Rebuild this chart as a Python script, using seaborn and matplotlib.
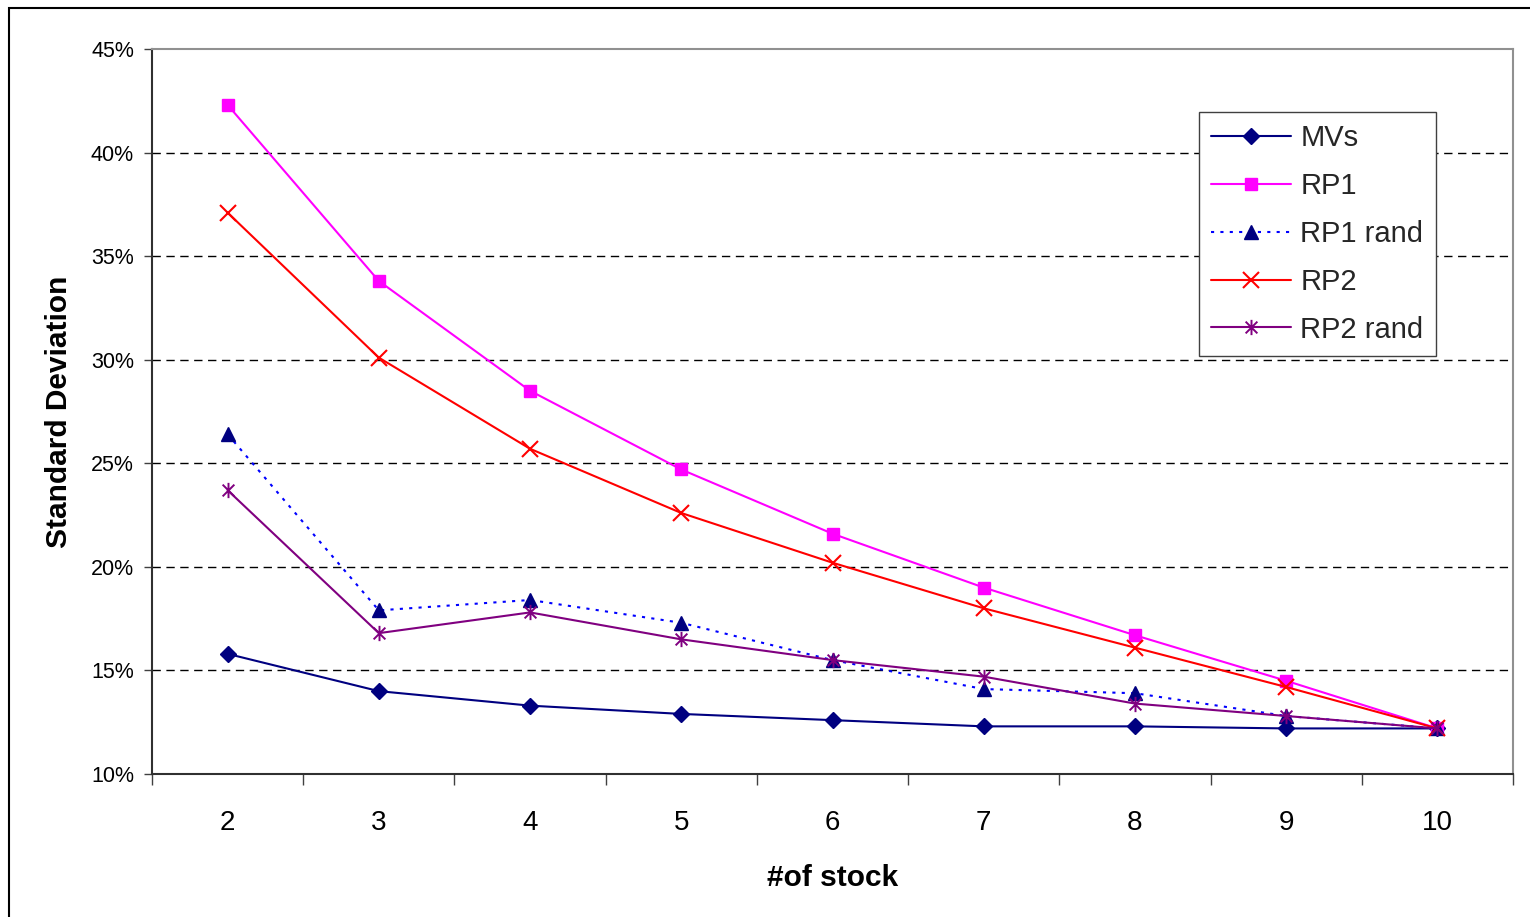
import numpy as np
import pandas as pd
import matplotlib
matplotlib.use("Agg")
import matplotlib.pyplot as plt
from matplotlib.path import Path
from matplotlib.patches import Rectangle
from matplotlib.ticker import FixedLocator, FuncFormatter
import seaborn as sns

# Number of stocks in the portfolio
stocks = [2, 3, 4, 5, 6, 7, 8, 9, 10]

# Portfolio standard deviation (%) for each method
mvs = [15.8, 14.0, 13.3, 12.9, 12.6, 12.3, 12.3, 12.2, 12.2]
rp1 = [42.3, 33.8, 28.5, 24.7, 21.6, 19.0, 16.7, 14.5, 12.2]
rp1_rand = [26.4, 17.9, 18.4, 17.3, 15.5, 14.1, 13.9, 12.8, 12.2]
rp2 = [37.1, 30.1, 25.7, 22.6, 20.2, 18.0, 16.1, 14.2, 12.2]
rp2_rand = [23.7, 16.8, 17.8, 16.5, 15.5, 14.7, 13.4, 12.8, 12.2]

series_names = ["MVs", "RP1", "RP1 rand", "RP2", "RP2 rand"]
series_values = [mvs, rp1, rp1_rand, rp2, rp2_rand]

y_ticks = [10, 15, 20, 25, 30, 35, 40, 45]

sns.set_theme(style="white")
plt.rcParams["font.family"] = ["Liberation Sans", "DejaVu Sans"]

# Asterisk marker: an x with a vertical stroke
star = Path(
    [(-1, -1), (1, 1), (-1, 1), (1, -1), (0, -1.3), (0, 1.3)],
    [Path.MOVETO, Path.LINETO, Path.MOVETO, Path.LINETO, Path.MOVETO, Path.LINETO],
)

styles = {
    "MVs": dict(color="#000080", marker="D", markersize=8, mfc="#000080", mec="#000080",
                linestyle="-"),
    "RP1": dict(color="#FF00FF", marker="s", markersize=8.5, mfc="#FF00FF", mec="#FF00FF",
                linestyle="-"),
    "RP1 rand": dict(color="#0000FF", marker="^", markersize=10, mfc="#000080", mec="#000080",
                     linestyle=(0, (1.5, 3.0))),
    "RP2": dict(color="#FF0000", marker="x", markersize=11, mfc="none", mec="#FF0000",
                mew=1.5, linestyle="-"),
    "RP2 rand": dict(color="#800080", marker=star, markersize=11, mfc="none", mec="#800080",
                     mew=1.4, linestyle="-"),
}

fig = plt.figure(figsize=(15.3, 9.17), dpi=100)
ax = fig.add_axes([152 / 1530, 1 - 774 / 917, (1513 - 152) / 1530, (774 - 49) / 917])

for name, vals in zip(series_names, series_values):
    df = pd.DataFrame({"stocks": stocks, "sd": vals})
    st = styles[name]
    sns.lineplot(
        data=df, x="stocks", y="sd", ax=ax, label=name,
        color=st["color"], linestyle=st["linestyle"], linewidth=1.5,
        marker=st["marker"], markersize=st["markersize"],
        markerfacecolor=st["mfc"], markeredgecolor=st["mec"],
        markeredgewidth=st.get("mew", 1.0), zorder=3,
    )

# Axes range and ticks (category axis with ticks between categories)
ax.set_xlim(1.5, 10.5)
ax.set_ylim(10, 45)
ax.xaxis.set_major_locator(FixedLocator(np.arange(1.5, 10.6, 1.0)))
ax.xaxis.set_minor_locator(FixedLocator(stocks))
ax.xaxis.set_major_formatter(FuncFormatter(lambda v, p: ""))
ax.xaxis.set_minor_formatter(FuncFormatter(lambda v, p: f"{int(round(v))}"))
ax.tick_params(axis="x", which="major", direction="out", length=8, width=1, color="#404040",
               bottom=True)
ax.tick_params(axis="x", which="minor", length=0, pad=26, labelsize=20, labelcolor="black",
               bottom=True)
ax.yaxis.set_major_locator(FixedLocator(y_ticks))
ax.yaxis.set_major_formatter(FuncFormatter(lambda v, p: f"{int(round(v))}%"))
ax.tick_params(axis="y", which="major", direction="out", length=6, width=1, color="#404040",
               left=True, pad=7, labelsize=15.5, labelcolor="black")

# Dashed horizontal gridlines
for yv in y_ticks[1:-1]:
    ax.axhline(yv, color="black", linewidth=1.0, linestyle=(0, (6, 4)), zorder=1)

for side in ["left", "bottom"]:
    ax.spines[side].set_color("#303030")
    ax.spines[side].set_linewidth(1.5)
for side in ["top", "right"]:
    ax.spines[side].set_color("#909090")
    ax.spines[side].set_linewidth(1.5)
    ax.spines[side].set_visible(True)

ax.set_xlabel("#of stock", fontsize=21.5, fontweight="bold", labelpad=20, color="black")
ax.set_ylabel("Standard Deviation", fontsize=21.5, fontweight="bold", labelpad=13, color="black")

ax.legend_.remove()
handles, labels = ax.get_legend_handles_labels()
leg = fig.legend(
    handles, labels, loc="upper left",
    bbox_to_anchor=(1199 / 1530, 1 - 112 / 917), bbox_transform=fig.transFigure,
    borderaxespad=0, fontsize=21, frameon=True, fancybox=False, framealpha=1,
    edgecolor="#404040", handlelength=2.75, handletextpad=0.3, labelspacing=0.68,
    borderpad=0.42,
)
leg.get_frame().set_linewidth(1.0)

# Outer chart border
fig.patches.append(Rectangle((9 / 1530, -0.05), 1.1, 1 - 8 / 917 + 0.05,
                             transform=fig.transFigure, fill=False,
                             edgecolor="black", linewidth=1.5))

fig.savefig("out.png", dpi=100, facecolor="white")
